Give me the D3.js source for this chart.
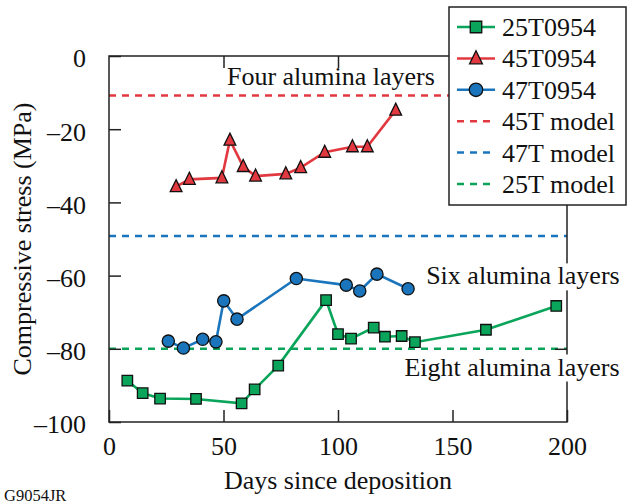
<!DOCTYPE html>
<html>
<head>
<meta charset="utf-8">
<script src="https://cdn.jsdelivr.net/npm/d3@7"></script>
<style>
  body { margin: 0; background: #fff; }
  svg text { font-family: "Liberation Serif", "Times New Roman", serif; }
</style>
</head>
<body>
<svg id="chart" width="634" height="504"></svg>
<script>
// DATA
var days25 = [8, 14.7, 22.3, 38, 57.9, 63.6, 73.9, 94.8, 100, 105.7, 115.6, 120.5, 127.8, 133.6, 164.6, 195.3];
var stress25 = [-88.7, -92.1, -93.6, -93.7, -94.9, -91.1, -84.6, -66.7, -76, -77.2, -74.2, -76.7, -76.5, -78.2, -74.8, -68.3];

var days45 = [29.3, 35.1, 49.3, 52.8, 58.6, 64, 77.2, 83.7, 94.2, 106.3, 112.8, 125.2];
var stress45 = [-35.7, -33.7, -33.3, -23, -30.2, -32.8, -32.2, -30.5, -26.3, -24.8, -24.8, -14.8];

var days47 = [25.9, 32.5, 40.9, 46.7, 50.1, 55.9, 81.8, 103.6, 109.5, 117, 130.6];
var stress47 = [-77.9, -79.8, -77.4, -78.1, -66.9, -71.9, -60.8, -62.6, -64.2, -59.6, -63.6];

var modelNames = ["45T model", "47T model", "25T model"];
var modelValues = [-10.8, -49.2, -80];

var xTicks = [0, 50, 100, 150, 200];
var yTicks = [0, -20, -40, -60, -80, -100];

var annotations = [
    { text: "Four alumina layers", day: 51.5, val: -7.9, bg: false },
    { text: "Six alumina layers", day: 138.5, val: -62.4, bg: true },
    { text: "Eight alumina layers", day: 129, val: -87.3, bg: true }
];

var green = "#0aa55a", red = "#e2383f", blue = "#1b75bc";

const svg = d3.select("#chart");

// SCALES
var x = d3.scaleLinear().domain([0, 200]).range([109, 567]);
var y = d3.scaleLinear().domain([-100, 0]).range([422, 56]);

// triangle a bit taller than equilateral, like the original
var tallTriangle = {
    draw: function (ctx, size) {
        var w = Math.sqrt(size) * 0.56;
        ctx.moveTo(0, -w * 1.2);
        ctx.lineTo(w, w * 0.85);
        ctx.lineTo(-w, w * 0.85);
        ctx.closePath();
    }
};

var series = [
    { name: "25T0954", days: days25, vals: stress25, color: green, shape: d3.symbolSquare, size: 110 },
    { name: "45T0954", days: days45, vals: stress45, color: red, shape: tallTriangle, size: 110 },
    { name: "47T0954", days: days47, vals: stress47, color: blue, shape: d3.symbolCircle, size: 118 }
];
var models = modelNames.map((n, i) => ({ name: n, val: modelValues[i], color: [red, blue, green][i] }));

// model lines
svg.append("g")
    .selectAll("line")
    .data(models)
    .join("line")
    .attr("x1", x(0))
    .attr("x2", x(200))
    .attr("y1", d => y(d.val))
    .attr("y2", d => y(d.val))
    .attr("stroke", d => d.color)
    .attr("stroke-width", 2.5)
    .attr("stroke-dasharray", "7,6");

// frame
svg.append("rect")
    .attr("x", x(0)).attr("y", y(0))
    .attr("width", x(200) - x(0)).attr("height", y(-100) - y(0))
    .attr("fill", "none").attr("stroke", "#222").attr("stroke-width", 1.5);

// axes, ticks inward on all sides
var tickLen = 12;
svg.append("g").attr("transform", "translate(0," + y(-100) + ")")
    .call(d3.axisBottom(x).tickValues(xTicks).tickSizeInner(-tickLen).tickSizeOuter(0).tickPadding(tickLen + 3).tickFormat(d3.format("d")));
svg.append("g").attr("transform", "translate(0," + y(0) + ")")
    .call(d3.axisTop(x).tickValues(xTicks.slice(1, -1)).tickSizeInner(-tickLen).tickSizeOuter(0).tickFormat(""));
var yAxis = svg.append("g").attr("transform", "translate(" + x(0) + ",0)")
    .call(d3.axisLeft(y).tickValues(yTicks).tickSizeInner(-tickLen).tickSizeOuter(0).tickPadding(tickLen + 11)
        .tickFormat(d => d < 0 ? "\u2013" + Math.abs(d) : d));
yAxis.selectAll(".tick text").attr("dy", "0.42em");
svg.append("g").attr("transform", "translate(" + x(200) + ",0)")
    .call(d3.axisRight(y).tickValues(yTicks.slice(1, -1)).tickSizeInner(-tickLen).tickSizeOuter(0).tickFormat(""));

svg.selectAll(".domain").remove();
svg.selectAll(".tick line").attr("stroke", "#222").attr("stroke-width", 1.5);
svg.selectAll(".tick text").attr("font-size", 26).attr("fill", "#111")
    .attr("font-family", "Liberation Serif, serif");

// series lines and markers
var line = d3.line().x(d => x(d[0])).y(d => y(d[1]));
series.forEach(s => {
    var pts = s.days.map((d, i) => [d, s.vals[i]]);
    svg.append("path")
        .attr("d", line(pts))
        .attr("fill", "none")
        .attr("stroke", s.color)
        .attr("stroke-width", 2.6);
    svg.append("g")
        .selectAll("path")
        .data(pts)
        .join("path")
        .attr("d", d3.symbol().type(s.shape).size(s.size))
        .attr("transform", d => "translate(" + x(d[0]) + "," + y(d[1]) + ")")
        .attr("fill", s.color)
        .attr("stroke", "#111")
        .attr("stroke-width", 1.3);
});

// annotations
annotations.forEach(a => {
    var g = svg.append("g");
    var t = g.append("text")
        .attr("x", x(a.day))
        .attr("y", y(a.val))
        .attr("font-size", 26)
        .attr("fill", "#111")
        .text(a.text);
    if (a.bg) {
        var b = t.node().getBBox();
        g.insert("rect", "text")
            .attr("x", b.x - 3).attr("y", b.y + 2)
            .attr("width", b.width + 6).attr("height", b.height - 2)
            .attr("fill", "#fff");
    }
});

// axis titles
svg.append("text")
    .attr("x", (x(0) + x(200)) / 2)
    .attr("y", 489)
    .attr("text-anchor", "middle")
    .attr("font-size", 26)
    .attr("fill", "#111")
    .text("Days since deposition");

svg.append("text")
    .attr("transform", "translate(31," + (y(-50)) + ") rotate(-90)")
    .attr("text-anchor", "middle")
    .attr("font-size", 26)
    .attr("fill", "#111")
    .text("Compressive stress (MPa)");

svg.append("text")
    .attr("x", 4)
    .attr("y", 501)
    .attr("font-size", 16.5)
    .attr("fill", "#111")
    .text("G9054JR");

// LEGEND
var legend = svg.append("g").attr("transform", "translate(449,7)");
legend.append("rect")
    .attr("width", 177).attr("height", 198)
    .attr("fill", "#fff").attr("stroke", "#222").attr("stroke-width", 1.5);

var legendItems = series.map(s => ({ name: s.name, color: s.color, shape: s.shape, size: s.size * 1.2, dash: null }))
    .concat(models.map(m => ({ name: m.name, color: m.color, shape: null, dash: "7,6" })));

var rows = legend.selectAll("g.row")
    .data(legendItems)
    .join("g")
    .attr("class", "row")
    .attr("transform", (d, i) => "translate(0," + (20 + i * 31.4) + ")");

rows.append("line")
    .attr("x1", 8).attr("x2", 46)
    .attr("stroke", d => d.color)
    .attr("stroke-width", 2.5)
    .attr("stroke-dasharray", d => d.dash);

rows.filter(d => d.shape)
    .append("path")
    .attr("d", d => d3.symbol().type(d.shape).size(d.size)())
    .attr("transform", "translate(27,0)")
    .attr("fill", d => d.color)
    .attr("stroke", "#111")
    .attr("stroke-width", 1.3);

rows.append("text")
    .attr("x", 53)
    .attr("y", 9)
    .attr("font-size", 26)
    .attr("fill", "#111")
    .text(d => d.name);
</script>
</body>
</html>
